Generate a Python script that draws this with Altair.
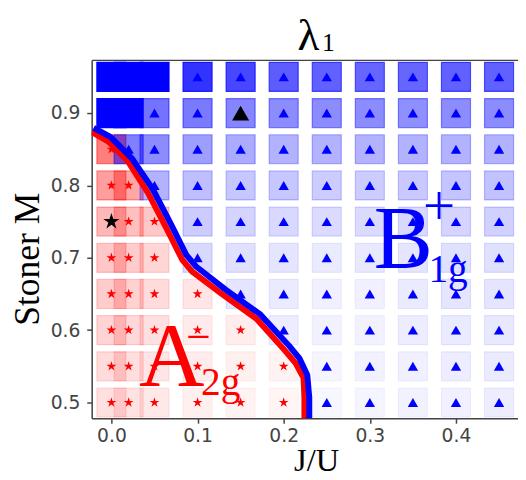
import altair as alt
import pandas as pd

# ---------------- data ----------------
xs = [0.0, 0.02, 0.05, 0.1, 0.15, 0.2, 0.25, 0.3, 0.35, 0.4, 0.45]
ys = [0.95, 0.9, 0.85, 0.8, 0.75, 0.7, 0.65, 0.6, 0.55, 0.5]
# S = solid B1g (no marker), B = B1g (triangle), A = A2g (star)
phases = [
    "SSSBBBBBBBB",
    "SSBBBBBBBBB",
    "ABBBBBBBBBB",
    "AABBBBBBBBB",
    "AAABBBBBBBB",
    "AAABBBBBBBB",
    "AAAABBBBBBB",
    "AAAAABBBBBB",
    "AAAAAABBBBB",
    "AAAAAABBBBB",
]
alphas = [
    [1.0, 1.0, 1.0, 0.80, 0.72, 0.64, 0.62, 0.60, 0.60, 0.62, 0.62],
    [1.0, 1.0, 0.55, 0.52, 0.48, 0.45, 0.45, 0.45, 0.44, 0.45, 0.45],
    [0.50, 0.50, 0.45, 0.38, 0.33, 0.30, 0.30, 0.30, 0.30, 0.30, 0.30],
    [0.38, 0.35, 0.30, 0.25, 0.22, 0.22, 0.20, 0.20, 0.21, 0.23, 0.24],
    [0.28, 0.25, 0.22, 0.20, 0.17, 0.15, 0.14, 0.14, 0.15, 0.17, 0.18],
    [0.22, 0.20, 0.16, 0.15, 0.12, 0.10, 0.08, 0.09, 0.10, 0.12, 0.12],
    [0.20, 0.18, 0.14, 0.10, 0.10, 0.08, 0.06, 0.06, 0.08, 0.10, 0.10],
    [0.17, 0.15, 0.12, 0.08, 0.07, 0.07, 0.05, 0.05, 0.07, 0.08, 0.09],
    [0.14, 0.13, 0.10, 0.07, 0.06, 0.05, 0.04, 0.05, 0.06, 0.07, 0.08],
    [0.12, 0.11, 0.09, 0.06, 0.05, 0.04, 0.03, 0.04, 0.05, 0.06, 0.07],
]
# highlighted (black) points
black_star = (0.0, 0.75)
black_tri = (0.15, 0.9)

# phase boundary curves
red_x = [-0.0229, -0.0034, 0.0194, 0.0423, 0.0651, 0.0823, 0.0937, 0.128, 0.168, 0.202, 0.214, 0.223, 0.224, 0.224]
red_y = [0.874, 0.8605, 0.833, 0.790, 0.738, 0.697, 0.681, 0.650, 0.616, 0.571, 0.554, 0.534, 0.507, 0.470]
blue_x = [-0.0206, -0.0011, 0.024, 0.048, 0.0697, 0.0869, 0.0983, 0.1326, 0.1726, 0.2069, 0.2183, 0.2274, 0.2297, 0.2297]
blue_y = [0.8796, 0.867, 0.837, 0.795, 0.745, 0.704, 0.688, 0.656, 0.622, 0.5776, 0.561, 0.538, 0.507, 0.470]

# annotation texts
ann_text = ["λ", "1", "A", "−", "2g", "B", "+", "1g"]
ann_x = [0.2160, 0.2446, 0.0320, 0.0870, 0.1040, 0.3046, 0.3617, 0.3680]
ann_y = [0.987, 0.9857, 0.5231, 0.5710, 0.5100, 0.6878, 0.7449, 0.666]
ann_size = [46, 26, 92, 44, 40, 90, 58, 40]
ann_color = ["black", "black", "#ff0000", "#ff0000", "#ff0000", "#0000ff", "#0000ff", "#0000ff"]

# ---------------- tables ----------------
cells = []
for yi, yv in enumerate(ys):
    for xi, xv in enumerate(xs):
        cells.append({"x": xv, "y": yv, "phase": phases[yi][xi], "alpha": alphas[yi][xi]})
cells = pd.DataFrame(cells)

markers = cells[cells["phase"] != "S"].copy()
markers["black"] = [
    (r.x, r.y) in (black_star, black_tri) for r in markers.itertuples()
]
stars = markers[(markers["phase"] == "A") & (~markers["black"])]
tris = markers[(markers["phase"] == "B") & (~markers["black"])]
bstars = markers[(markers["phase"] == "A") & (markers["black"])]
btris = markers[(markers["phase"] == "B") & (markers["black"])]

red_df = pd.DataFrame({"x": red_x, "y": red_y, "o": range(len(red_x))})
blue_df = pd.DataFrame({"x": blue_x, "y": blue_y, "o": range(len(blue_x))})
ann_df = pd.DataFrame({"x": ann_x, "y": ann_y, "t": ann_text, "s": ann_size, "c": ann_color})

XD = [-0.0229, 0.4720]
YD = [0.4782, 0.9735]
xs_scale = alt.Scale(domain=XD, nice=False, zero=False)
ys_scale = alt.Scale(domain=YD, nice=False, zero=False)

x_axis = alt.Axis(
    values=[0.0, 0.1, 0.2, 0.3, 0.4], format=".1f", grid=False,
    labelFont="DejaVu Sans", labelFontSize=19, labelColor="#444",
    tickColor="#444", tickSize=5, tickWidth=1.5, domainColor="#444", domainWidth=1.5,
    labelPadding=4,
    title="J/U", titleFont="Liberation Serif", titleFontSize=33, titleFontWeight="normal",
    titleColor="black", titleX=228, titleY=53, titleAnchor="start", titleAlign="center",
    titleBaseline="alphabetic",
)
y_axis = alt.Axis(
    values=[0.5, 0.6, 0.7, 0.8, 0.9], format=".1f", grid=False,
    labelFont="DejaVu Sans", labelFontSize=19, labelColor="#444",
    tickColor="#444", tickSize=5, tickWidth=1.5, domainColor="#444", domainWidth=1.5,
    labelPadding=7,
    title="Stoner M", titleFont="Liberation Serif", titleFontSize=36, titleFontWeight="normal",
    titleColor="black", titleX=-65, titleY=202, titleAngle=-90, titleAlign="center",
    titleBaseline="middle",
)
top_axis = alt.Axis(orient="top", labels=False, ticks=False, title=None, grid=False,
                    domainColor="#444", domainWidth=1.5)

color_scale = alt.Scale(domain=["A", "B", "S"], range=["#ff0000", "#0000ff", "#0000ff"])

squares = alt.Chart(cells).mark_point(shape="square", filled=True, size=870, strokeWidth=1.2,
                                      opacity=1, clip=True).encode(
    x=alt.X("x:Q", scale=xs_scale, axis=x_axis),
    y=alt.Y("y:Q", scale=ys_scale, axis=y_axis),
    fill=alt.Fill("phase:N", scale=color_scale, legend=None),
    stroke=alt.Stroke("phase:N", scale=color_scale, legend=None),
    fillOpacity=alt.FillOpacity("alpha:Q", scale=None),
    strokeOpacity=alt.StrokeOpacity("alpha:Q", scale=None),
)

top = alt.Chart(cells).mark_point(opacity=0).encode(
    x=alt.X("x:Q", scale=xs_scale, axis=top_axis),
    y=alt.Y("y:Q", scale=ys_scale, axis=None),
)

STAR = "M0,-1L0.2245,-0.309L0.9511,-0.309L0.3633,0.118L0.5878,0.809L0,0.382L-0.5878,0.809L-0.3633,0.118L-0.9511,-0.309L-0.2245,-0.309Z"


def pts(df, shape, color, size):
    return alt.Chart(df).mark_point(shape=shape, filled=True, color=color, size=size, opacity=1, clip=True).encode(
        x=alt.X("x:Q", scale=xs_scale, axis=None),
        y=alt.Y("y:Q", scale=ys_scale, axis=None),
    )


star_l = pts(stars, STAR, "#ff0000", 110)
tri_l = pts(tris, "triangle-up", "#0000ff", 110)
bstar_l = pts(bstars, STAR, "black", 300)
btri_l = pts(btris, "triangle-up", "black", 300)


def curve(df, color):
    return alt.Chart(df).mark_line(color=color, strokeWidth=6, clip=True).encode(
        x=alt.X("x:Q", scale=xs_scale, axis=None),
        y=alt.Y("y:Q", scale=ys_scale, axis=None),
        order="o:Q",
    )


red_l = curve(red_df, "#ff0000")
blue_l = curve(blue_df, "#0000ff")

texts = alt.Chart(ann_df).mark_text(font="Liberation Serif", align="left", baseline="alphabetic").encode(
    x=alt.X("x:Q", scale=xs_scale, axis=None),
    y=alt.Y("y:Q", scale=ys_scale, axis=None),
    text="t:N",
    size=alt.Size("s:Q", scale=None),
    color=alt.Color("c:N", scale=None),
)

chart = alt.layer(
    squares, top, star_l, tri_l, bstar_l, btri_l, red_l, blue_l, texts
).resolve_axis(x="independent", y="independent").properties(
    width=433, height=364,
    autosize=alt.AutoSizeParams(type="none"),
    padding={"left": 85, "top": 49, "right": 0, "bottom": 59},
).configure_view(stroke=None).configure(background="white")

chart.save("out.html", embed_options={"renderer": "svg", "actions": False})
